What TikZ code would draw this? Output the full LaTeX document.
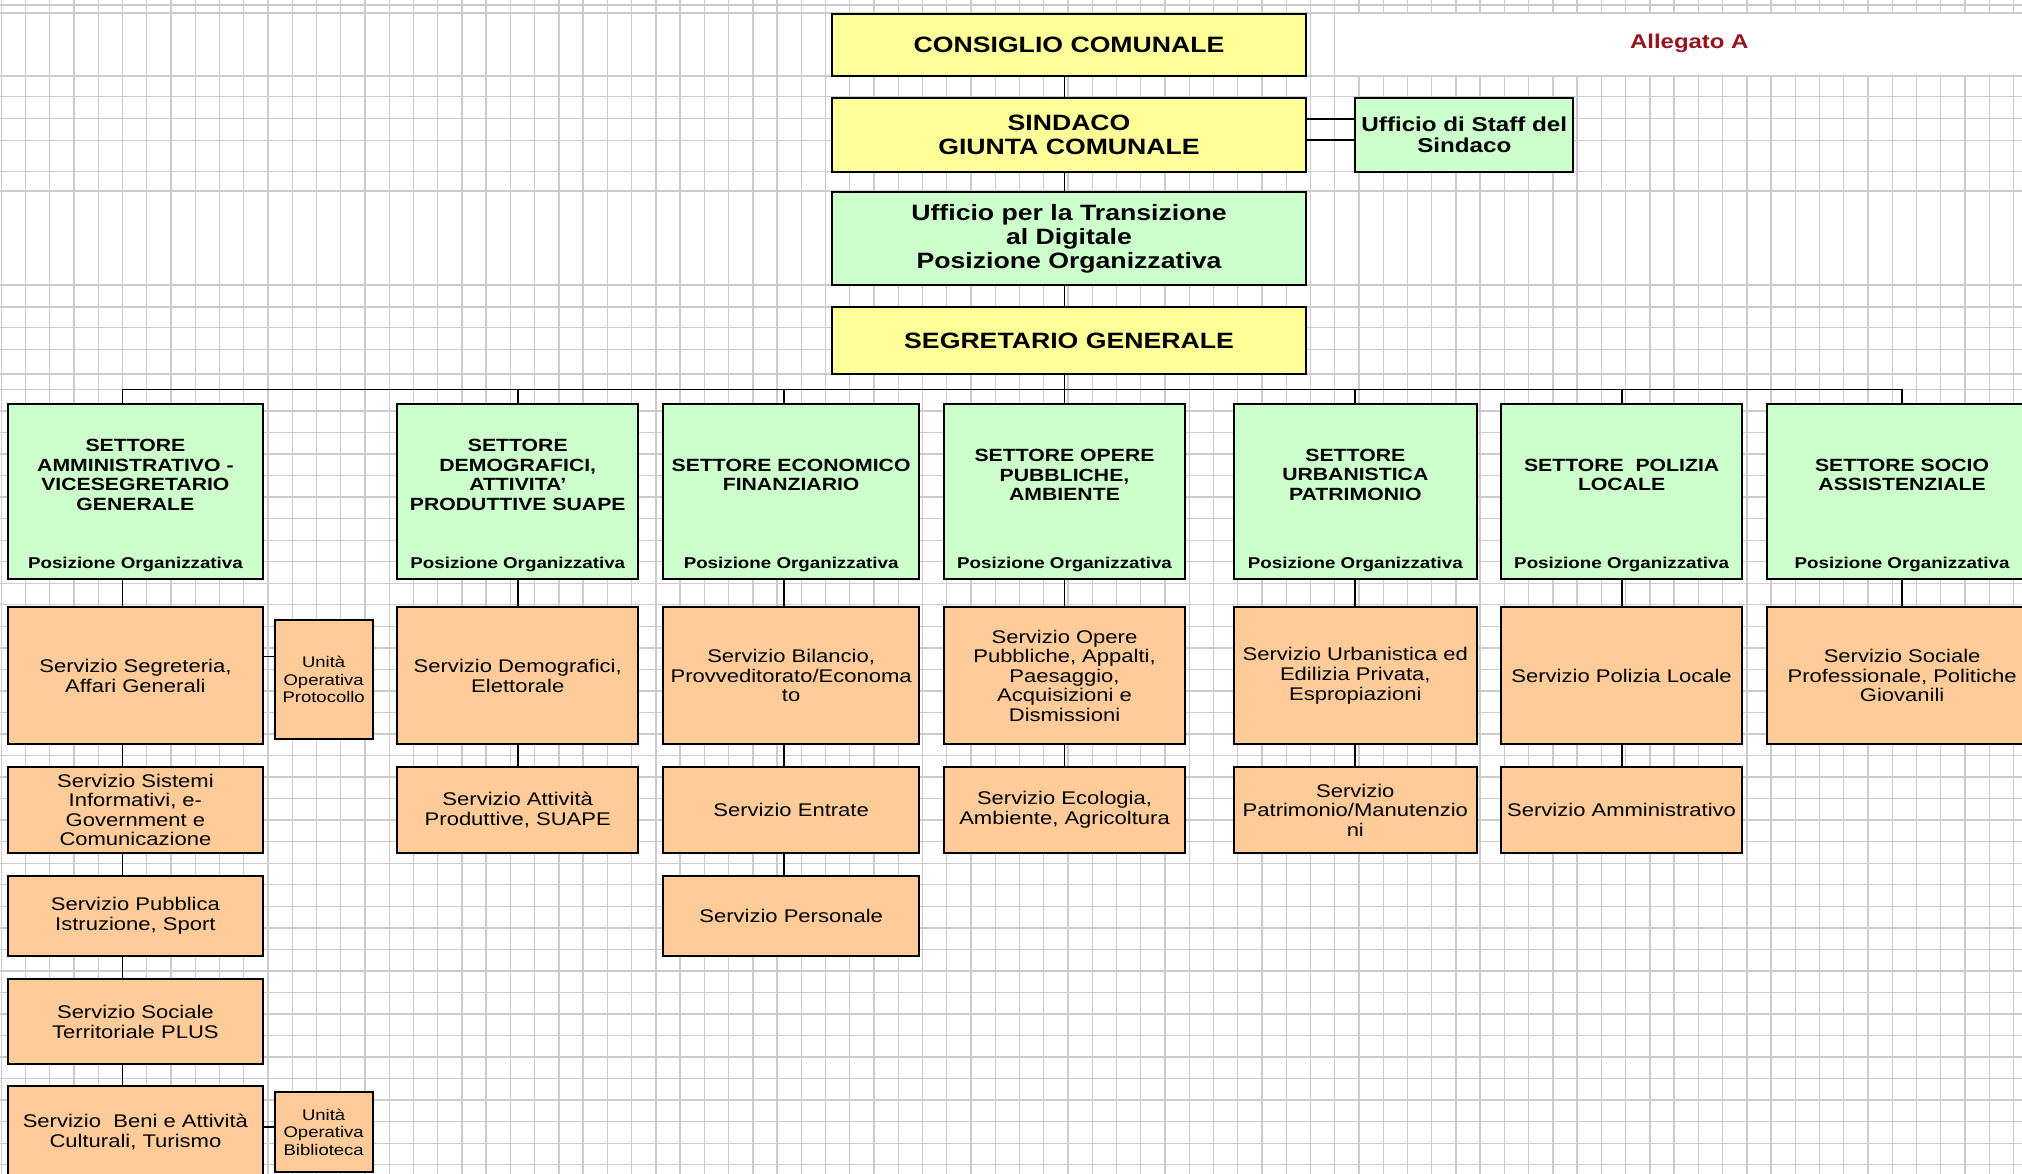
\documentclass[tikz,border=0pt]{standalone}
\usepackage{fontspec}
\setmainfont{Liberation Sans}[FakeStretch=1.2]
\usetikzlibrary{positioning}
\definecolor{giallo}{RGB}{255,255,153}
\definecolor{verde}{RGB}{204,255,204}
\definecolor{arancio}{RGB}{255,204,153}
\definecolor{rossoscuro}{RGB}{150,20,30}
\tikzset{
    %Define standard line
    linea/.style={draw=black, line width=0.8pt},
    %Define style for grid of the sheet
    griglia/.style={draw=gray!40, line width=0.6pt},
    %Define style for boxes
    punkt/.style={
           rectangle,
           draw=black, line width=0.9pt,
           inner sep=0pt,
           align=center},
    larg/.style={minimum width=#1},
    altezza/.style={minimum height=#1},
    vertice/.style={
           punkt, fill=giallo,
           minimum width=7.36cm,
           font=\bfseries\fontsize{9.8}{10.2}\selectfont},
    ufficio/.style={
           punkt, fill=verde,
           font=\bfseries\fontsize{9.8}{10.5}\selectfont},
    settore/.style={
           punkt, fill=verde,
           minimum height=2.72cm,
           label={[posorg]south:Posizione Organizzativa}},
    intest/.style={
           anchor=center, yshift=-1.12cm, align=center,
           font=\bfseries\fontsize{7.8}{8.7}\selectfont},
    posorg/.style={
           anchor=center, yshift=0.24cm,
           font=\bfseries\fontsize{6.9}{7}\selectfont},
    servizio/.style={
           punkt, fill=arancio,
           font=\fontsize{8.1}{8.65}\selectfont},
    unita/.style={
           punkt, fill=arancio,
           minimum width=1.52cm,
           font=\fontsize{6.8}{7.65}\selectfont}
}

\begin{document}
\begin{tikzpicture}[x=0.02cm, y=-0.02cm]
\useasboundingbox (0,0) rectangle (1568,910);
\clip (0,0) rectangle (1568,910);
\fill[white] (0,0) rectangle (1568,910);
 %grid
\foreach \i in {0,...,83}
    \draw[griglia] ({1+18.8*\i},0) -- ({1+18.8*\i},910);
\foreach \y in {4,10,59,75,92,109,133,148,221,238,254,271,290}
    \draw[griglia] (0,\y) -- (1568,\y);
\foreach \i in {0,...,36}
    \draw[griglia] (0,{302+16.7*\i}) -- (1568,{302+16.7*\i});
\fill[white] (1050,11) rectangle (1568,58);
 %nodes
\node[vertice, altezza=0.96cm] (cc) at (829,35) {CONSIGLIO COMUNALE};
\node[vertice, altezza=1.14cm, below=0.31cm of cc] (sg) {SINDACO\\GIUNTA COMUNALE};
\node[ufficio, larg=3.38cm, altezza=1.14cm, right=0.73cm of sg,
      font=\bfseries\fontsize{8.9}{9.6}\selectfont] (st) {Ufficio di Staff del\\Sindaco};
\node[ufficio, larg=7.36cm, altezza=1.44cm, below=0.29cm of sg] (td) {Ufficio per la Transizione\\al Digitale\\Posizione Organizzativa};
\node[vertice, altezza=1.04cm, below=0.31cm of td] (seg) {SEGRETARIO GENERALE};
\node[text=rossoscuro, font=\bfseries\fontsize{8.8}{9}\selectfont] (all) at (1310,34) {Allegato A};
\coordinate[below=0.22cm of seg.south, xshift=-0.07cm] (bus);
 %settori
\node[settore, larg=3.96cm, label={[intest]north:{SETTORE\\AMMINISTRATIVO -\\VICESEGRETARIO\\GENERALE}}] (s1) at (105,381) {};
\node[settore, larg=3.74cm, label={[intest]north:{SETTORE\\DEMOGRAFICI,\\ATTIVITA'\\PRODUTTIVE SUAPE}}] (s2) at (401.5,381) {};
\node[settore, larg=3.98cm, label={[intest]north:{SETTORE ECONOMICO\\FINANZIARIO}}] (s3) at (613.5,381) {};
\node[settore, larg=3.74cm, label={[intest]north:{SETTORE OPERE\\PUBBLICHE,\\AMBIENTE}}] (s4) at (825.5,381) {};
\node[settore, larg=3.76cm, label={[intest]north:{SETTORE\\URBANISTICA\\PATRIMONIO}}] (s5) at (1051,381) {};
\node[settore, larg=3.74cm, label={[intest]north:{SETTORE\ \ POLIZIA\\LOCALE}}] (s6) at (1257.5,381) {};
\node[settore, larg=4.2cm, label={[intest]north:{SETTORE SOCIO\\ASSISTENZIALE}}] (s7) at (1475,381) {};
 %servizi
\node[servizio, larg=3.96cm, altezza=2.12cm, below=0.41cm of s1] (s1a) {Servizio Segreteria,\\Affari Generali};
\node[servizio, larg=3.96cm, altezza=1.32cm, below=0.33cm of s1a] (s1b) {Servizio Sistemi\\Informativi, e-\\Government e\\Comunicazione};
\node[servizio, larg=3.96cm, altezza=1.24cm, below=0.33cm of s1b] (s1c) {Servizio Pubblica\\Istruzione, Sport};
\node[servizio, larg=3.96cm, altezza=1.32cm, below=0.33cm of s1c] (s1d) {Servizio Sociale\\Territoriale PLUS};
\node[servizio, larg=3.96cm, altezza=1.42cm, below=0.31cm of s1d] (s1e) {Servizio\ \ Beni e Attività\\Culturali, Turismo};
\node[unita, altezza=1.84cm] (u1) at (251,527) {Unità\\Operativa\\Protocollo};
\node[unita, altezza=1.24cm] (u2) at (251,878) {Unità\\Operativa\\Biblioteca};
\node[servizio, larg=3.74cm, altezza=2.12cm, below=0.41cm of s2] (s2a) {Servizio Demografici,\\Elettorale};
\node[servizio, larg=3.74cm, altezza=1.32cm, below=0.33cm of s2a] (s2b) {Servizio Attività\\Produttive, SUAPE};
\node[servizio, larg=3.98cm, altezza=2.12cm, below=0.41cm of s3] (s3a) {Servizio Bilancio,\\Provveditorato/Economa\\to};
\node[servizio, larg=3.98cm, altezza=1.32cm, below=0.33cm of s3a] (s3b) {Servizio Entrate};
\node[servizio, larg=3.98cm, altezza=1.24cm, below=0.33cm of s3b] (s3c) {Servizio Personale};
\node[servizio, larg=3.74cm, altezza=2.12cm, below=0.41cm of s4] (s4a) {Servizio Opere\\Pubbliche, Appalti,\\Paesaggio,\\Acquisizioni e\\Dismissioni};
\node[servizio, larg=3.74cm, altezza=1.32cm, below=0.33cm of s4a] (s4b) {Servizio Ecologia,\\Ambiente, Agricoltura};
\node[servizio, larg=3.76cm, altezza=2.12cm, below=0.41cm of s5] (s5a) {Servizio Urbanistica ed\\Edilizia Privata,\\Espropiazioni};
\node[servizio, larg=3.76cm, altezza=1.32cm, below=0.33cm of s5a] (s5b) {Servizio\\Patrimonio/Manutenzio\\ni};
\node[servizio, larg=3.74cm, altezza=2.12cm, below=0.41cm of s6] (s6a) {Servizio Polizia Locale};
\node[servizio, larg=3.74cm, altezza=1.32cm, below=0.33cm of s6a] (s6b) {Servizio Amministrativo};
\node[servizio, larg=4.2cm, altezza=2.12cm, below=0.41cm of s7] (s7a) {Servizio Sociale\\Professionale, Politiche\\Giovanili};
 %connectors
\draw[linea] ([xshift=-0.07cm]cc.south) -- ([xshift=-0.07cm]sg.north)
             ([xshift=-0.07cm]sg.south) -- ([xshift=-0.07cm]td.north)
             ([xshift=-0.07cm]td.south) -- ([xshift=-0.07cm]seg.north)
             ([xshift=-0.07cm]seg.south) -- (bus);
\draw[linea] ([yshift=0.25cm]sg.east) -- ([yshift=0.25cm]sg.east -| st.west)
             ([yshift=-0.08cm]sg.east) -- ([yshift=-0.08cm]sg.east -| st.west);
\draw[linea] ([xshift=-0.2cm]s1.north |- bus) -- (s7.north |- bus);
\foreach \s/\dx in {s1/-0.2cm, s2/0cm, s3/-0.11cm, s4/0cm, s5/0cm, s6/0cm, s7/0cm}
    \draw[linea] ([xshift=\dx]\s.north) -- ([xshift=\dx]\s.north |- bus);
\foreach \a/\b/\dx in {s1/s1a/-0.2cm, s1a/s1b/-0.2cm, s1b/s1c/-0.2cm, s1c/s1d/-0.2cm, s1d/s1e/-0.2cm,
                       s2/s2a/0cm, s2a/s2b/0cm, s3/s3a/-0.11cm, s3a/s3b/-0.11cm, s3b/s3c/-0.11cm,
                       s4/s4a/0cm, s4a/s4b/0cm, s5/s5a/0cm, s5a/s5b/0cm, s6/s6a/0cm, s6a/s6b/0cm, s7/s7a/0cm}
    \draw[linea] ([xshift=\dx]\a.south) -- ([xshift=\dx]\b.north);
\draw[linea] ([yshift=0.3cm]s1a.east) -- ([yshift=0.3cm]s1a.east -| u1.west)
             ([yshift=0.08cm]s1e.east) -- ([yshift=0.08cm]s1e.east -| u2.west);
\end{tikzpicture}
\end{document}
